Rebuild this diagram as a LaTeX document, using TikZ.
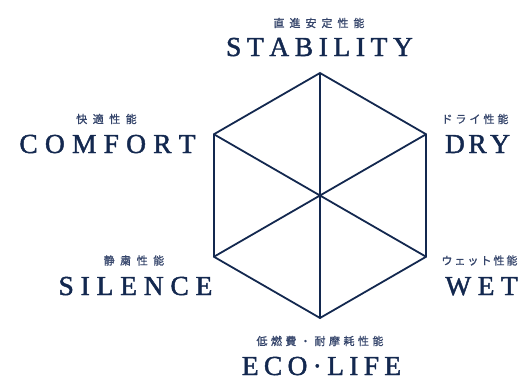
\documentclass[tikz,border=0pt]{standalone}
\usepackage{fontspec}
\usetikzlibrary{calc}
\setmainfont{Liberation Serif}
\newfontfamily\enfont{Liberation Serif}[FakeBold=1.6]
\newfontfamily\jpfont{Noto Sans CJK JP}[FakeBold=1.2]
\definecolor{navy}{HTML}{13284F}
\definecolor{jpgray}{HTML}{34446A}
\makeatletter
\newcommand\trk[2]{\def\trk@g{#1}\let\trk@sep\relax\@tfor\trk@c:=#2\do{\trk@sep\trk@c\def\trk@sep{\kern\trk@g}}}
\makeatother
\begin{document}
\begin{tikzpicture}[x=1pt,y=-1pt,
  hexline/.style={draw=navy,line width=1.8pt,line join=miter},
  entext/.style={inner sep=0pt,anchor=base,text=navy,font=\enfont\fontsize{27.5}{30}\selectfont},
  jptext/.style={inner sep=0pt,anchor=center,text=jpgray,font=\jpfont\fontsize{11}{12}\selectfont}]
\useasboundingbox (0,0) rectangle (525,381);
\coordinate (c) at (320,195.5);
\foreach \i/\a in {1/90,2/30,3/-30,4/-90,5/-150,6/150}{
  \coordinate (v\i) at ($(c)+(\a:122.5)$);
}
\draw[hexline] (v1)--(v2)--(v3)--(v4)--(v5)--(v6)--cycle;
\draw[hexline] (v1)--(v4) (v2)--(v5) (v3)--(v6);
% labels
\node[entext] (stab) at (319.5,56) {\trk{5.6pt}{STABILITY}};
\node[jptext] (stabj) at (319,23) {\trk{5pt}{直進安定性能}};
\node[entext] (comf) at (107.5,153) {\trk{7.2pt}{COMFORT}};
\node[jptext] (comfj) at (106.5,119) {\trk{5.5pt}{快適性能}};
\node[entext] (dry) at (477.5,153) {\trk{3.5pt}{DRY}};
\node[jptext] (dryj) at (475,119) {\trk{3pt}{ドライ性能}};
\node[entext] (sil) at (135.5,295) {\trk{6.8pt}{SILENCE}};
\node[jptext] (silj) at (134,260.5) {\trk{5.5pt}{静粛性能}};
\node[entext] (wet) at (481.5,295) {\trk{6.5pt}{WET}};
\node[jptext] (wetj) at (479.5,260.5) {\trk{2pt}{ウェット性能}};
\node[entext] (eco) at (321.5,375) {\trk{5.3pt}{ECO·LIFE}};
\node[jptext] (ecoj) at (320,341) {\trk{3.5pt}{低燃費・耐摩耗性能}};
\end{tikzpicture}
\end{document}
